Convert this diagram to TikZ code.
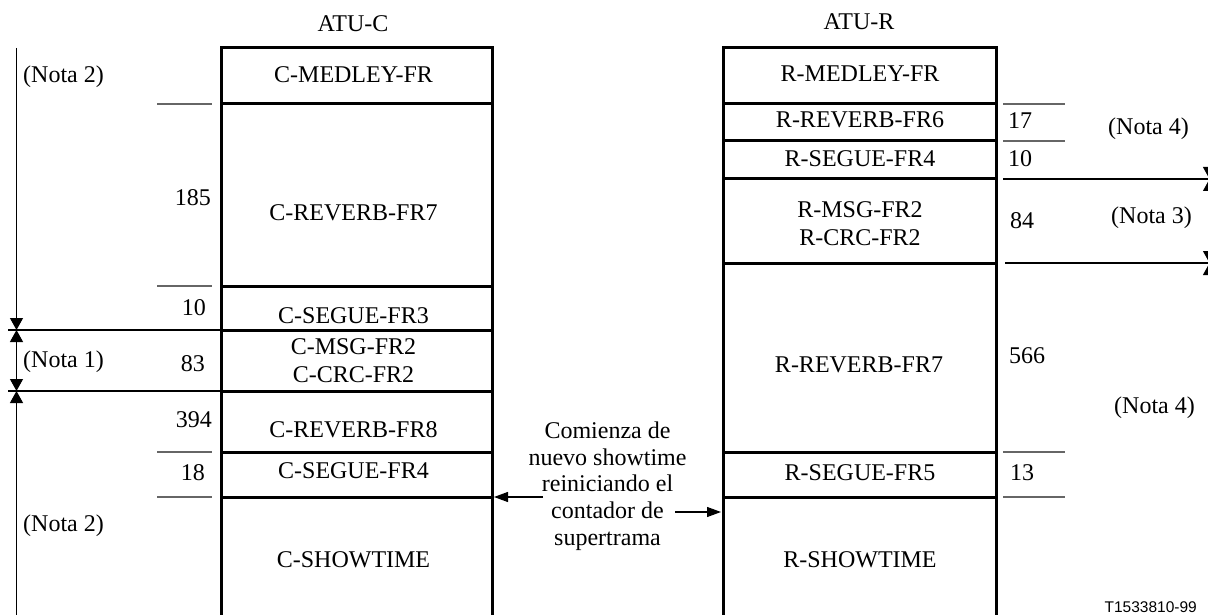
\documentclass[tikz,border=0pt]{standalone}
\usepackage{fontspec}
\setmainfont{Liberation Serif}
\newfontfamily\sansf{Liberation Sans}
\usetikzlibrary{arrows.meta}
\begin{document}
\begin{tikzpicture}[x=1pt,y=-1pt,
  txt/.style={anchor=base, inner sep=0pt, font=\fontsize{24}{28}\selectfont},
  numL/.style={txt, anchor=base east},
  numR/.style={txt, anchor=base west},
  note/.style={txt, anchor=base west},
  boxline/.style={line width=3pt, line cap=rect},
  sep/.style={line width=3pt},
  tick/.style={line width=1.1pt, black!60},
  thin/.style={line width=1.1pt, black},
  dimtip/.style={-{Triangle[length=12pt,width=13pt]}},
  dimboth/.style={{Triangle[length=12pt,width=13pt]}-{Triangle[length=12pt,width=13pt]}},
  dimstart/.style={{Triangle[length=12pt,width=13pt]}-},
  ptr/.style={line width=1.1pt, -{Triangle[length=14pt,width=10pt]}}
]
\useasboundingbox (0,0) rectangle (1208,615);

% ---------- ATU-C column ----------
\node[txt] (atuc) at (353,32) {ATU-C};
\draw[boxline] (221,620) -- (221,48) -- (492,48) -- (492,620);
\foreach \yy in {104,286,330,391,452,497}
  \draw[sep] (221,\yy) -- (492,\yy);

\node[txt] (cmedley) at (353.5,83) {C-MEDLEY-FR};
\node[txt] (crev7) at (353.5,220) {C-REVERB-FR7};
\node[txt] (cseg3) at (353.5,323) {C-SEGUE-FR3};
\node[txt] (cmsg) at (353.5,354) {C-MSG-FR2};
\node[txt] (ccrc) at (353.5,382) {C-CRC-FR2};
\node[txt] (crev8) at (353.5,437) {C-REVERB-FR8};
\node[txt] (cseg4) at (353.5,478) {C-SEGUE-FR4};
\node[txt] (cshow) at (353.5,567) {C-SHOWTIME};

% ---------- ATU-R column ----------
\node[txt] (atur) at (859,30) {ATU-R};
\draw[boxline] (723,620) -- (723,48) -- (996,48) -- (996,620);
\foreach \yy in {104,141,179,263,452,497}
  \draw[sep] (723,\yy) -- (996,\yy);

\node[txt] (rmedley) at (860,82) {R-MEDLEY-FR};
\node[txt] (rrev6) at (860,128) {R-REVERB-FR6};
\node[txt] (rseg4) at (860,167) {R-SEGUE-FR4};
\node[txt] (rmsg) at (860,218) {R-MSG-FR2};
\node[txt] (rcrc) at (860,245) {R-CRC-FR2};
\node[txt] (rrev7) at (859,372) {R-REVERB-FR7};
\node[txt] (rseg5) at (860,480) {R-SEGUE-FR5};
\node[txt] (rshow) at (860,567) {R-SHOWTIME};

% ---------- left ticks and dimension ----------
\foreach \yy in {104,286,452,497}
  \draw[tick] (157,\yy) -- (212,\yy);
\draw[thin] (8,330) -- (221,330);
\draw[thin] (8,391) -- (221,391);

\coordinate (lt) at (16.5,48);
\coordinate (la) at (16.5,330);
\coordinate (lb) at (16.5,391);
\coordinate (lz) at (16.5,615);
\draw[thin, dimtip] (lt) -- (la);
\draw[thin, dimboth] (la) -- (lb);
\draw[thin, dimstart] (lb) -- (lz);

\node[numL] (n185) at (211,205) {185};
\node[numL] (n10l) at (206,315) {10};
\node[numL] (n83) at (205,371) {83};
\node[numL] (n394) at (212,427) {394};
\node[numL] (n18) at (205,480) {18};

\node[note] (nota2a) at (23,83) {(Nota 2)};
\node[note] (nota1) at (23,367) {(Nota 1)};
\node[note] (nota2b) at (23,531) {(Nota 2)};

% ---------- right ticks and dimension ----------
\foreach \yy in {104,141,452,497}
  \draw[tick] (1003,\yy) -- (1065,\yy);
\draw[thin] (1003,179) -- (1215,179);
\draw[thin] (1005,263) -- (1215,263);

\coordinate (rt) at (1209.5,100);
\coordinate (ra) at (1209.5,179);
\coordinate (rb) at (1209.5,263);
\coordinate (rz) at (1209.5,400);
\draw[thin, dimtip] (rt) -- (ra);
\draw[thin, dimboth] (ra) -- (rb);
\draw[thin, dimstart] (rb) -- (rz);

\node[numR] (n17) at (1008,129) {17};
\node[numR] (n10r) at (1008,167) {10};
\node[numR] (n84) at (1010,229) {84};
\node[numR] (n566) at (1009,363) {566};
\node[numR] (n13) at (1010,480) {13};

\node[note] (nota4a) at (1108,135) {(Nota 4)};
\node[note] (nota3) at (1111,223) {(Nota 3)};
\node[note] (nota4b) at (1114,413) {(Nota 4)};

% ---------- middle annotation ----------
\node[txt] (m1) at (607.5,438.5) {Comienza de};
\node[txt] (m2) at (607.5,465.2) {nuevo showtime};
\node[txt] (m3) at (607.5,491.9) {reiniciando el};
\node[txt] (m4) at (607.5,518.6) {contador de};
\node[txt] (m5) at (607.5,545.3) {supertrama};

\coordinate (pl0) at (543,497);
\coordinate (pl1) at (494,497);
\coordinate (pr0) at (675,512);
\coordinate (pr1) at (721,512);
\draw[ptr] (pl0) -- (pl1);
\draw[ptr] (pr0) -- (pr1);

% ---------- figure id ----------
\node[anchor=base east, inner sep=0pt, font=\sansf\fontsize{15.5}{18}\selectfont] (fid) at (1197,612) {T1533810-99};
\end{tikzpicture}
\end{document}
